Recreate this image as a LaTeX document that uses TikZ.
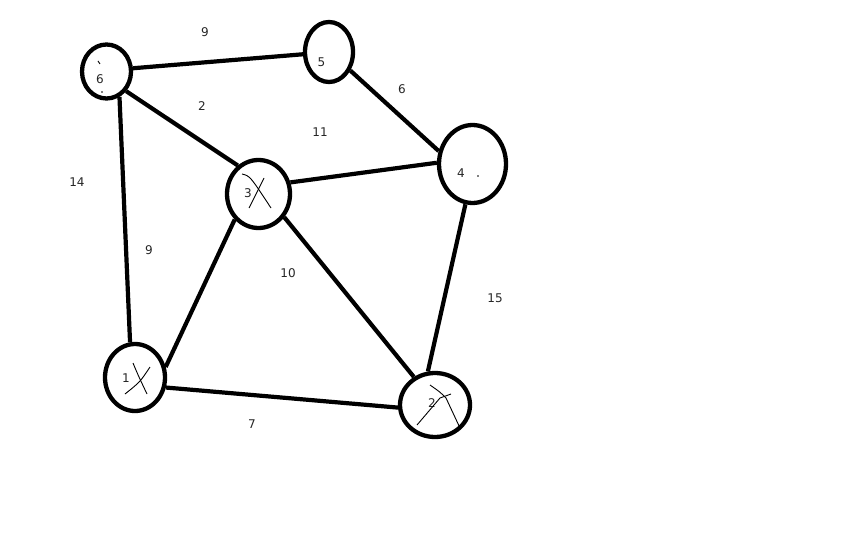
\documentclass[tikz,border=0pt]{standalone}
\usepackage{fontspec}
\setmainfont{DejaVu Sans}
\usetikzlibrary{shapes.geometric,backgrounds}
\begin{document}
\begin{tikzpicture}[x=1pt,y=-1pt,
  vtx/.style={draw=black,line width=4.3pt,ellipse,inner sep=0pt,fill=white},
  edge/.style={draw=black,line width=4.2pt},
  lbl/.style={inner sep=0pt,font=\fontsize{12}{14}\selectfont,text=black!85},
  nlbl/.style={inner sep=0pt,font=\fontsize{12}{14}\selectfont,text=black!85},
  scrib/.style={draw=black,line width=0.9pt}]
\useasboundingbox (0,0) rectangle (864,540);
% vertices
\node[vtx,minimum width=49pt,minimum height=54pt] (n6) at (106.5,71.5) {};
\node[vtx,minimum width=48pt,minimum height=60pt] (n5) at (329,52) {};
\node[vtx,minimum width=63pt,minimum height=68pt] (n3) at (258.5,194) {};
\node[vtx,minimum width=60pt,minimum height=67pt] (n1) at (135,377.5) {};
\node[vtx,minimum width=70pt,minimum height=64pt] (n2) at (435,405) {};
\node[vtx,minimum width=67pt,minimum height=78pt] (n4) at (472.5,164) {};
% edges
\begin{pgfonlayer}{background}
\fill[white] (0,0) rectangle (864,540);
\draw[edge] (n6.7) -- (n5.185);
\draw[edge] (n6.-45) -- (n3.126);
\draw[edge] (n6.-63) -- (n1.98);
\draw[edge] (n5.-41) -- (n4.159);
\draw[edge] (n3.20) -- (n4.178);
\draw[edge] (n3.227) -- (n1.19);
\draw[edge] (n3.-42) -- (n2.127);
\draw[edge] (n4.-100) -- (n2.102);
\draw[edge] (n1.-18) -- (n2.184);
\end{pgfonlayer}
% vertex numbers
\node[nlbl] (t6) at (100,79) {6};
\node[nlbl] (t5) at (321.5,62) {5};
\node[nlbl] (t3) at (248,193) {3};
\node[nlbl] (t1) at (126,378) {1};
\node[nlbl] (t2) at (432,403) {2};
\node[nlbl] (t4) at (461,173) {4};
% scribbles
\draw[scrib] (242,174) .. controls (250,176) .. (271,208);
\draw[scrib] (264,178) -- (249,208);
\draw[scrib] (133,363) .. controls (138,375) .. (147,394);
\draw[scrib] (150,367) .. controls (140,382) .. (125,394);
\draw[scrib] (430,385) .. controls (440,392) .. (446,398) -- (460,428);
\draw[scrib] (451,394) -- (440,398) -- (417,425);
\draw[scrib] (98,61) -- (100,64);
\fill (102,92) circle (0.8);
\fill (478,176) circle (0.8);
% edge weights
\node[lbl] (w65) at (205,32) {9};
\node[lbl] (w54) at (402,89) {6};
\node[lbl] (w63) at (202,106) {2};
\node[lbl] (w34) at (320,132) {11};
\node[lbl] (w61) at (77,182) {14};
\node[lbl] (w31) at (149,250) {9};
\node[lbl] (w32) at (288,273) {10};
\node[lbl] (w42) at (495,298) {15};
\node[lbl] (w12) at (252,424) {7};
\end{tikzpicture}
\end{document}
